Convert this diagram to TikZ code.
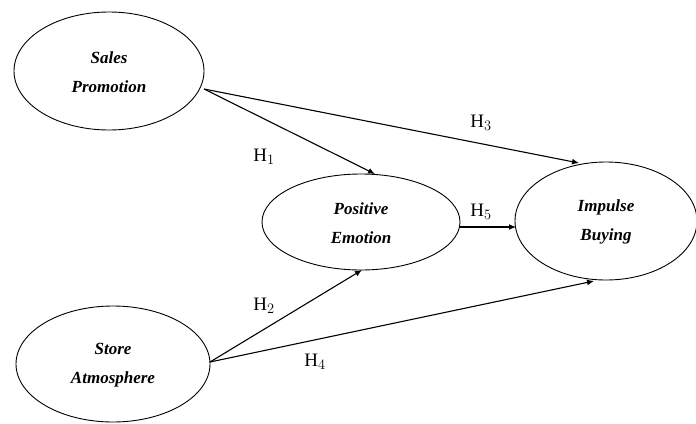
\documentclass[tikz,border=0pt]{standalone}
\usepackage{fontspec}
\setmainfont{Liberation Serif}
\usetikzlibrary{arrows.meta}
\begin{document}
\begin{tikzpicture}[x=1pt,y=-1pt,
  vtext/.style={align=center, font=\fontsize{17}{29}\selectfont\itshape\bfseries},
  vring/.style={line width=0.9pt},
  conn/.style={line width=1.1pt, -{Latex[length=7pt,width=6pt]}},
  hlab/.style={font=\fontsize{19}{19}\selectfont}]
\useasboundingbox (0,0) rectangle (696,423);
\draw[vring] (109,71) ellipse [x radius=95, y radius=59];
\node[vtext] (sp) at (109,72) {Sales\\Promotion};
\draw[vring] (113,364) ellipse [x radius=97, y radius=58];
\node[vtext] (sa) at (113,365) {Store\\Atmosphere};
\draw[vring] (361,222) ellipse [x radius=99, y radius=48];
\node[vtext] (pe) at (361,223) {Positive\\Emotion};
\draw[vring] (606,221) ellipse [x radius=91, y radius=59];
\node[vtext] (ib) at (606,222) {Impulse\\Buying};
\coordinate (spR) at (204,89);
\coordinate (saR) at (210,362);
\coordinate (peT) at (375,174);
\coordinate (peB) at (362,270);
\coordinate (peR) at (460,227);
\coordinate (ibT) at (579,163);
\coordinate (ibL) at (516,227);
\coordinate (ibB) at (594,281);
\draw[conn] (spR) -- (peT);
\draw[conn] (spR) -- (ibT);
\draw[conn] (peR) -- (ibL);
\draw[conn] (saR) -- (peB);
\draw[conn] (saR) -- (ibB);
\node[hlab] (h1) at (264,157) {H$_1$};
\node[hlab] (h3) at (481,123) {H$_3$};
\node[hlab] (h5) at (481,212) {H$_5$};
\node[hlab] (h2) at (264,306) {H$_2$};
\node[hlab] (h4) at (315,362) {H$_4$};
\end{tikzpicture}
\end{document}
